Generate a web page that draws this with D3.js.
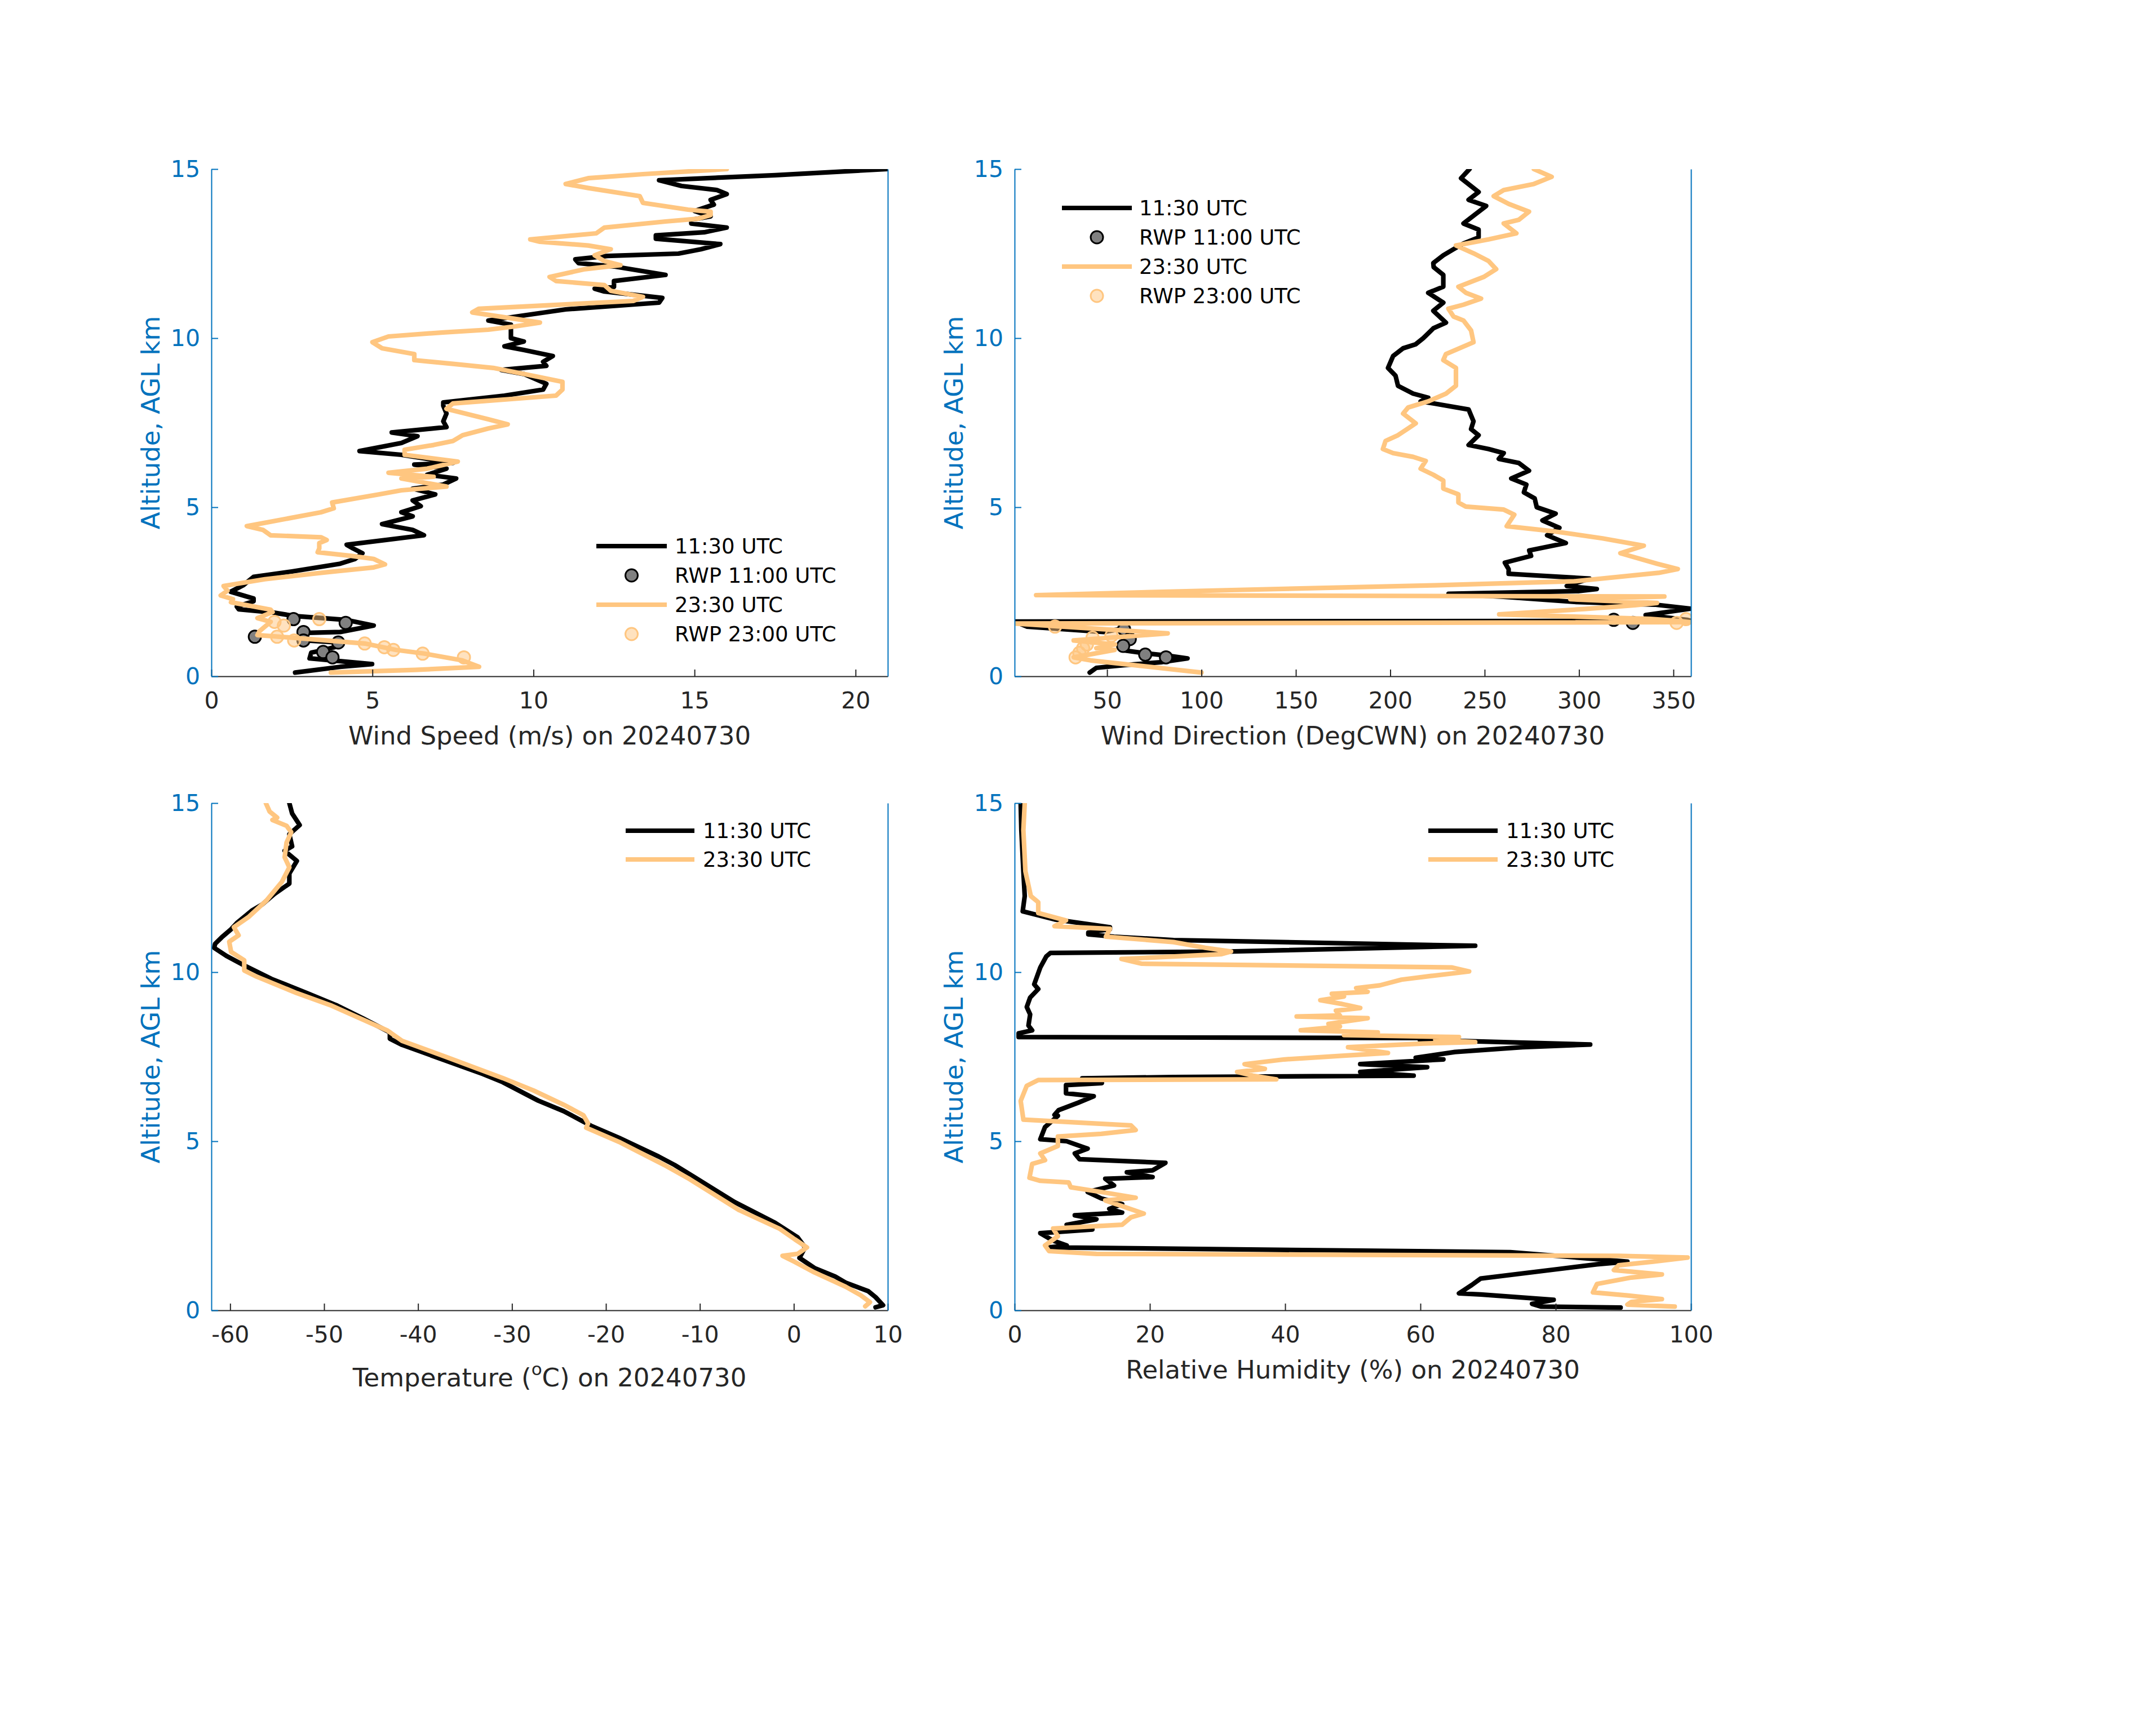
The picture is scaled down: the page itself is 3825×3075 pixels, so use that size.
<!DOCTYPE html>
<html><head><meta charset="utf-8">
<script src="https://cdn.jsdelivr.net/npm/d3@7/dist/d3.min.js"></script>
<style>body{margin:0;background:#fff}svg{display:block}text{font-family:"DejaVu Sans",sans-serif}</style>
</head><body><svg id="c" width="3825" height="3075"></svg>
<script>
// ---- data: [value, altitude km] ----
const wspd1130 = [[21.0,15.0],[17.5,14.82],[13.9,14.67],[14.6,14.5],[15.7,14.38],[16.0,14.26],[15.5,14.09],[15.6,13.95],[15.0,13.76],[15.5,13.6],[14.9,13.5],[14.9,13.39],[16.0,13.27],[15.3,13.13],[13.8,13.04],[13.8,12.94],[15.8,12.78],[15.2,12.63],[14.5,12.5],[12.3,12.43],[11.3,12.33],[11.4,12.22],[12.5,12.12],[14.1,11.87],[12.5,11.69],[12.5,11.52],[11.9,11.46],[12.2,11.38],[14.0,11.19],[13.9,11.05],[11.0,10.85],[8.6,10.52],[9.3,10.4],[9.3,10.23],[9.3,10.0],[9.7,9.9],[9.1,9.76],[9.7,9.65],[10.6,9.47],[10.3,9.3],[10.4,9.18],[9.0,9.06],[9.7,8.94],[10.4,8.65],[10.3,8.48],[9.1,8.3],[7.2,8.1],[7.2,8.0],[7.3,7.77],[7.2,7.54],[7.3,7.37],[5.6,7.21],[6.4,7.1],[5.9,6.9],[4.6,6.66],[5.9,6.55],[7.5,6.31],[6.3,6.26],[7.3,6.14],[6.7,5.96],[7.6,5.85],[7.2,5.67],[6.25,5.55],[6.95,5.38],[6.25,5.2],[6.5,5.03],[5.9,4.85],[6.25,4.73],[5.3,4.5],[6.25,4.33],[6.6,4.17],[4.2,3.89],[4.4,3.78],[4.69,3.64],[4.46,3.47],[4.0,3.33],[2.5,3.1],[1.31,2.94],[1.0,2.7],[0.6,2.5],[1.31,2.3],[1.31,2.22],[0.79,2.06],[0.85,1.98],[1.89,1.89],[2.6,1.78],[4.17,1.67],[5.04,1.5],[4.0,1.31],[2.83,1.28],[2.9,1.15],[2.94,1.06],[3.9,1.0],[3.9,0.88],[3.4,0.76],[3.1,0.7],[3.05,0.53],[4.99,0.36],[4.0,0.28],[2.6,0.11]];
const wspd2330 = [[16.0,15.0],[13.4,14.85],[11.7,14.73],[11.0,14.56],[11.7,14.44],[13.3,14.2],[13.4,14.0],[14.8,13.8],[15.5,13.74],[15.5,13.64],[15.1,13.53],[14.1,13.45],[12.2,13.27],[11.95,13.1],[9.9,12.92],[10.2,12.85],[11.7,12.74],[12.4,12.63],[11.9,12.45],[12.2,12.28],[12.7,12.16],[11.6,12.04],[10.5,11.81],[10.7,11.69],[12.2,11.57],[12.4,11.4],[13.4,11.22],[13.1,11.1],[8.3,10.87],[8.1,10.76],[10.2,10.46],[9.45,10.35],[8.6,10.25],[7.2,10.17],[5.5,10.05],[5.0,9.88],[5.3,9.7],[6.3,9.53],[6.3,9.35],[7.5,9.24],[8.75,9.12],[9.7,8.94],[10.9,8.71],[10.9,8.48],[10.7,8.3],[7.5,8.07],[7.3,7.91],[8.6,7.6],[9.2,7.45],[8.6,7.33],[7.8,7.13],[7.5,6.96],[6.9,6.84],[6.0,6.7],[6.0,6.55],[7.65,6.35],[6.7,6.14],[5.5,6.02],[6.9,5.9],[5.9,5.85],[7.3,5.61],[5.9,5.5],[5.2,5.38],[3.75,5.14],[3.8,4.97],[3.4,4.85],[1.1,4.44],[1.6,4.33],[1.84,4.17],[3.41,4.11],[3.58,4.03],[3.35,3.94],[3.35,3.78],[3.3,3.67],[4.35,3.56],[5.04,3.47],[5.39,3.31],[5.04,3.22],[3.41,3.06],[1.66,2.87],[0.38,2.67],[0.5,2.53],[0.29,2.39],[0.67,2.28],[0.61,2.19],[1.84,1.97],[1.9,1.9],[1.43,1.72],[1.84,1.61],[1.49,1.33],[1.43,1.22],[2.54,1.14],[4.76,0.97],[5.74,0.78],[6.62,0.67],[7.79,0.47],[8.31,0.28],[6.33,0.19],[3.71,0.11]];
const wspdRwp1100 = [[2.55,1.69],[4.17,1.58],[2.86,1.31],[1.35,1.17],[2.86,1.06],[3.94,1.0],[3.47,0.72],[3.76,0.56]];
const wspdRwp2300 = [[3.35,1.69],[1.96,1.61],[2.25,1.5],[2.04,1.17],[2.57,1.06],[4.76,0.97],[5.37,0.86],[5.65,0.78],[6.56,0.67],[7.84,0.56]];

const wdir1130 = [[242,15.0],[237.5,14.73],[246.8,14.32],[241.5,14.09],[250.8,13.91],[244.1,13.62],[238.8,13.39],[246.8,13.21],[246.8,12.98],[238.8,12.8],[233.5,12.63],[228.1,12.45],[222.8,12.22],[223,12.1],[228.1,11.87],[228.1,11.52],[220.1,11.34],[228.1,11.05],[222.8,10.81],[229.5,10.46],[222.8,10.29],[217.5,10.0],[213.5,9.82],[206.8,9.7],[201.5,9.47],[198.8,9.12],[202.8,8.89],[204.1,8.59],[212.1,8.36],[220.1,8.24],[216.1,8.13],[222.8,8.07],[241.5,7.89],[244.1,7.54],[242.8,7.31],[246.8,7.13],[241.5,6.84],[252.1,6.72],[260.1,6.6],[257.5,6.43],[268.1,6.31],[273.5,6.08],[264.1,5.85],[272.1,5.67],[270.8,5.44],[276.5,5.26],[277.6,5.0],[287.6,4.81],[280.6,4.61],[289.6,4.39],[283.1,4.17],[293.0,3.94],[273.6,3.72],[274.6,3.56],[260.7,3.36],[262.7,3.17],[262.7,3.03],[305.5,2.89],[293.5,2.67],[309.4,2.58],[300,2.52],[230.9,2.44],[260,2.35],[297.4,2.2],[340,2.12],[359.2,2.0],[335.3,1.81],[357.2,1.67],[359.3,1.64],[1,1.62],[7.5,1.47],[48.2,1.31],[59.2,1.42],[64.2,1.14],[57.2,0.78],[69.1,0.69],[82.2,0.61],[92.6,0.53],[79.2,0.42],[59.2,0.33],[44.3,0.25],[40.8,0.11]];
const wdir2330 = [[276.1,15.0],[285.5,14.77],[276.1,14.56],[260.1,14.38],[254.8,14.2],[262.8,13.97],[273.5,13.74],[268.1,13.5],[260.1,13.39],[266.8,13.1],[252.1,12.92],[234.8,12.74],[244.1,12.51],[252.1,12.28],[256.1,12.04],[249.5,11.81],[236.1,11.52],[240.1,11.34],[248.1,11.17],[238.8,10.99],[230.8,10.87],[233.5,10.64],[238.8,10.52],[242.8,10.23],[244.1,9.88],[229.5,9.53],[228.1,9.35],[234.8,9.12],[234.8,8.59],[229.5,8.36],[220.1,8.13],[209.5,7.95],[206.8,7.77],[213.5,7.48],[204.1,7.13],[197.5,6.96],[196.1,6.72],[201.5,6.6],[212.1,6.49],[218.8,6.37],[216.1,6.14],[222.8,5.96],[228.1,5.79],[228.1,5.55],[236.1,5.38],[236.1,5.14],[240,5.02],[260.1,4.93],[265.7,4.78],[261.7,4.44],[287.6,4.28],[312.4,4.08],[334.3,3.86],[321.9,3.64],[341.3,3.33],[352.3,3.17],[342.2,3.06],[297.4,2.81],[222.8,2.69],[116,2.55],[12.4,2.40],[345.2,2.36],[295.4,2.28],[341.3,2.17],[329.5,2.1],[302.8,1.99],[257.7,1.83],[276,1.8],[337.5,1.7],[352.3,1.64],[358.8,1.6],[1,1.56],[82.1,1.27],[32.3,1.06],[54.2,0.94],[44.3,0.83],[54,0.78],[37.3,0.61],[32.3,0.56],[41.3,0.47],[100.0,0.11]];
const wdirRwp1100 = [[59,1.39],[62,1.1],[58.5,0.9],[70.2,0.64],[81.2,0.56],[318.4,1.67],[328.5,1.58]];
const wdirRwp2300 = [[22.4,1.47],[42.3,1.14],[52.3,1.2],[39.3,0.94],[37.3,0.83],[35.3,0.69],[33.3,0.56],[351.7,1.58],[356.7,1.69]];

const temp1130 = [[-53.7,15.0],[-53.4,14.69],[-52.6,14.35],[-53.7,14.08],[-53.4,13.72],[-54.2,13.59],[-52.9,13.29],[-53.7,12.92],[-53.7,12.62],[-55.3,12.31],[-56.6,12.0],[-57.7,11.82],[-59.3,11.45],[-59.9,11.27],[-60.9,11.03],[-61.6,10.84],[-61.7,10.72],[-60.4,10.48],[-58.3,10.17],[-55.6,9.8],[-51.8,9.38],[-48.6,9.01],[-45.9,8.64],[-43.0,8.22],[-43.0,8.03],[-41.7,7.85],[-37.4,7.42],[-33.1,6.99],[-31.0,6.75],[-27.2,6.2],[-24.5,5.89],[-21.6,5.46],[-18.6,5.1],[-14.4,4.55],[-12.7,4.3],[-10.6,3.94],[-6.3,3.2],[-2.0,2.59],[0.4,2.16],[1.2,1.86],[0.6,1.55],[2.2,1.25],[4.4,1.0],[5.5,0.82],[7.9,0.57],[8.7,0.39],[9.5,0.15],[8.7,0.09]];
const temp2330 = [[-56.2,15.0],[-55.8,14.75],[-55.0,14.57],[-55.5,14.5],[-54.0,14.33],[-53.5,14.14],[-54.0,13.83],[-54.2,13.4],[-53.7,13.1],[-54.5,12.67],[-56.1,12.13],[-58.0,11.64],[-59.6,11.33],[-59.1,11.09],[-60.1,10.9],[-59.9,10.6],[-58.5,10.35],[-58.5,10.05],[-57.2,9.87],[-52.9,9.38],[-49.2,9.01],[-43.3,8.28],[-41.7,7.97],[-36.9,7.48],[-31.0,6.87],[-27.7,6.5],[-24.5,6.08],[-22.4,5.77],[-21.9,5.53],[-22.1,5.4],[-18.6,4.98],[-13.8,4.3],[-11.1,3.88],[-5.8,2.96],[-1.5,2.41],[0.1,2.1],[1.4,1.86],[0.4,1.67],[-1.2,1.61],[0.1,1.43],[2.2,1.12],[5.5,0.70],[7.1,0.45],[8.1,0.24],[7.6,0.12]];

const rh1130 = [[0.9,15.0],[1.0,14.2],[1.3,12.98],[1.5,12.25],[1.2,11.8],[5.9,11.56],[14.1,11.33],[14.1,11.27],[10.9,11.17],[10.9,11.12],[14.7,11.05],[23.5,10.95],[68.1,10.78],[31.7,10.61],[5.3,10.57],[4.7,10.47],[3.8,10.14],[2.9,9.64],[3.5,9.5],[2.3,9.25],[1.8,8.97],[2.3,8.75],[2.05,8.42],[2.6,8.28],[0.6,8.19],[0.6,8.08],[61.6,8.05],[59.9,8.0],[85.1,7.86],[75.1,7.78],[65.1,7.64],[59.3,7.47],[63.4,7.42],[51.1,7.28],[61.0,7.19],[51.1,7.05],[59.0,6.94],[23.5,6.9],[10.0,6.86],[12.9,6.72],[7.6,6.66],[7.6,6.42],[11.7,6.33],[9.4,6.14],[6.5,5.92],[5.9,5.78],[6.4,5.75],[4.5,5.42],[3.8,5.06],[7.7,5.0],[10.8,4.78],[8.9,4.64],[9.6,4.47],[22.3,4.36],[20.4,4.14],[16.6,4.08],[20.4,3.94],[13.4,3.89],[14.7,3.69],[10.8,3.5],[12.8,3.31],[15.9,3.14],[14.0,3.0],[15.9,2.89],[8.9,2.81],[12.1,2.69],[7.7,2.53],[11.5,2.39],[3.8,2.28],[5.7,2.06],[7.7,1.92],[5.1,1.86],[73.3,1.72],[90.6,1.44],[86.1,1.36],[80.4,1.22],[68.9,0.94],[67.6,0.75],[65.7,0.5],[68.9,0.47],[79.7,0.31],[76.5,0.19],[77.8,0.11],[89.6,0.08]];
const rh2330 = [[1.5,15.0],[1.3,14.2],[1.6,12.98],[2.4,12.25],[3.5,12.07],[3.5,11.75],[7.6,11.53],[5.9,11.36],[14.1,11.28],[13.5,11.05],[23.5,10.89],[28.2,10.72],[32.0,10.61],[30.5,10.53],[15.8,10.39],[18.8,10.25],[64.6,10.14],[67.2,10.02],[61.6,9.89],[57.2,9.78],[54.0,9.61],[50.5,9.53],[52.2,9.42],[46.9,9.36],[48.7,9.28],[45.2,9.17],[48.4,9.06],[51.1,8.94],[47.5,8.86],[48.1,8.72],[41.7,8.69],[52.2,8.64],[46.4,8.47],[48.1,8.39],[42.3,8.28],[53.7,8.22],[48.7,8.14],[65.7,8.08],[62.2,8.0],[68.1,7.93],[60.4,7.89],[49.3,7.78],[55.2,7.61],[48.7,7.53],[39.9,7.42],[34.0,7.28],[37.0,7.14],[32.9,7.05],[35.2,6.94],[38.7,6.83],[3.5,6.81],[1.8,6.64],[0.9,6.19],[1.2,5.78],[1.3,5.64],[17.2,5.47],[17.9,5.33],[12.8,5.22],[6.4,5.14],[6.4,4.86],[3.8,4.64],[4.5,4.44],[2.6,4.33],[2.2,3.92],[3.8,3.83],[8.0,3.78],[8.3,3.64],[12.8,3.5],[17.9,3.33],[13.4,3.25],[15.9,3.08],[19.1,2.86],[17.2,2.75],[15.9,2.53],[5.7,2.42],[6.4,2.19],[4.5,1.92],[5.1,1.75],[12.1,1.67],[89.3,1.61],[99.5,1.56],[94.4,1.44],[89.3,1.33],[88.6,1.19],[95.7,1.06],[91.2,0.97],[86.1,0.78],[85.5,0.53],[90.6,0.44],[95.7,0.33],[91.2,0.25],[90.6,0.17],[97.6,0.11]];

const altTicks = [0, 5, 10, 15];
const wspdTicks = [0, 5, 10, 15, 20];
const wdirTicks = [50, 100, 150, 200, 250, 300, 350];
const tempTicks = [-60, -50, -40, -30, -20, -10, 0, 10];
const rhTicks = [0, 20, 40, 60, 80, 100];
const legendLong = ["11:30 UTC", "RWP 11:00 UTC", "23:30 UTC", "RWP 23:00 UTC"];
const legendShort = ["11:30 UTC", "23:30 UTC"];

// ---- drawing ----
const BLUE = "#0072BD", AX = "#262626", BLACK = "#000000", ORANGE = "#FFC680";
const svg = d3.select("#c");
svg.append("rect").attr("width", 3825).attr("height", 3075).attr("fill", "#fff");
const W = 1200, H = 900;

function panel(opt) {
  const g = svg.append("g").attr("transform", `translate(${opt.x0},${opt.y0})`);
  const x = d3.scaleLinear().domain(opt.xdom).range([0, W]);
  const y = d3.scaleLinear().domain([0, 15]).range([H, 0]);
  const cid = "clip" + opt.id;
  g.append("clipPath").attr("id", cid).append("rect").attr("width", W).attr("height", H);
  const plot = g.append("g").attr("clip-path", `url(#${cid})`);
  const line = d3.line().x(d => x(d[0])).y(d => y(d[1]));
  const drawLine = (data, col) => plot.append("path").datum(data).attr("d", line)
      .attr("fill", "none").attr("stroke", col).attr("stroke-width", 8.2)
      .attr("stroke-linejoin", "round").attr("stroke-linecap", "round");
  const drawPts = (data, fill, fop, stroke) => plot.append("g").selectAll("circle").data(data).join("circle")
      .attr("cx", d => x(d[0])).attr("cy", d => y(d[1])).attr("r", 11)
      .attr("fill", fill).attr("fill-opacity", fop).attr("stroke", stroke).attr("stroke-width", 3);
  drawLine(opt.l1, BLACK);
  if (opt.p1) drawPts(opt.p1, "#808080", 1, BLACK);
  drawLine(opt.l2, ORANGE);
  if (opt.p2) drawPts(opt.p2, ORANGE, 0.5, ORANGE);

  // axes
  const xa = g.append("g").attr("transform", `translate(0,${H})`)
    .call(d3.axisBottom(x).tickValues(opt.xticks).tickSizeInner(-12).tickSizeOuter(0).tickPadding(28).tickFormat(d => String(d)));
  xa.select(".domain").attr("stroke", AX).attr("stroke-width", 2);
  xa.selectAll(".tick line").attr("stroke", AX).attr("stroke-width", 2);
  xa.selectAll(".tick text").attr("fill", AX).attr("font-size", 41).attr("font-family", "DejaVu Sans");
  const ya = g.append("g")
    .call(d3.axisLeft(y).tickValues(altTicks).tickSizeInner(-12).tickSizeOuter(0).tickPadding(20).tickFormat(d => String(d)));
  ya.select(".domain").attr("stroke", BLUE).attr("stroke-width", 2);
  ya.selectAll(".tick line").attr("stroke", BLUE).attr("stroke-width", 2);
  ya.selectAll(".tick text").attr("fill", BLUE).attr("font-size", 41).attr("font-family", "DejaVu Sans");
  const yr = g.append("g").attr("transform", `translate(${W},0)`)
    .call(d3.axisRight(y).tickValues([]).tickSizeOuter(0));
  yr.select(".domain").attr("stroke", BLUE).attr("stroke-width", 2);

  g.append("text").attr("transform", `translate(-92,${H / 2}) rotate(-90)`)
    .attr("text-anchor", "middle").attr("fill", BLUE).attr("font-size", 45).text("Altitude, AGL km");
  const xl = g.append("text").attr("x", W / 2).attr("y", H + opt.xlabY)
    .attr("text-anchor", "middle").attr("fill", AX).attr("font-size", 45);
  opt.xlabel(xl);

  // legend
  const lg = svg.append("g");
  opt.legend.forEach((t, i) => {
    const yy = opt.leg.y0 + i * opt.leg.dy;
    const isPt = t.startsWith("RWP");
    const col = t.indexOf("11:") >= 0 ? BLACK : ORANGE;
    if (isPt) {
      lg.append("circle").attr("cx", (opt.leg.x1 + opt.leg.x2) / 2).attr("cy", yy).attr("r", 11)
        .attr("fill", col === BLACK ? "#808080" : ORANGE).attr("fill-opacity", col === BLACK ? 1 : 0.5)
        .attr("stroke", col).attr("stroke-width", 3);
    } else {
      lg.append("line").attr("x1", opt.leg.x1).attr("x2", opt.leg.x2).attr("y1", yy).attr("y2", yy)
        .attr("stroke", col).attr("stroke-width", 8.2);
    }
    lg.append("text").attr("x", opt.leg.tx).attr("y", yy + 13).attr("font-size", 37).attr("fill", BLACK).text(t);
  });
}

panel({id: 1, x0: 375, y0: 300, xdom: [0, 21], xticks: wspdTicks, l1: wspd1130, l2: wspd2330, p1: wspdRwp1100, p2: wspdRwp2300,
  xlabY: 121, xlabel: s => s.text("Wind Speed (m/s) on 20240730"),
  legend: legendLong, leg: {x1: 1058, x2: 1183, tx: 1197, y0: 969, dy: 52}});
panel({id: 2, x0: 1800, y0: 300, xdom: [1, 359.3], xticks: wdirTicks, l1: wdir1130, l2: wdir2330, p1: wdirRwp1100, p2: wdirRwp2300,
  xlabY: 121, xlabel: s => s.text("Wind Direction (DegCWN) on 20240730"),
  legend: legendLong, leg: {x1: 1884, x2: 2008, tx: 2021, y0: 369, dy: 52}});
panel({id: 3, x0: 375, y0: 1425, xdom: [-62, 10], xticks: tempTicks, l1: temp1130, l2: temp2330,
  xlabY: 135, xlabel: s => { s.append("tspan").text("Temperature ("); s.append("tspan").attr("font-size", 31).attr("dy", -20).text("o");
    s.append("tspan").attr("dy", 20).text("C) on 20240730"); },
  legend: legendShort, leg: {x1: 1110, x2: 1232, tx: 1247, y0: 1474, dy: 51}});
panel({id: 4, x0: 1800, y0: 1425, xdom: [0, 100], xticks: rhTicks, l1: rh1130, l2: rh2330,
  xlabY: 121, xlabel: s => s.text("Relative Humidity (%) on 20240730"),
  legend: legendShort, leg: {x1: 2534, x2: 2657, tx: 2672, y0: 1474, dy: 51}});
</script></body></html>
